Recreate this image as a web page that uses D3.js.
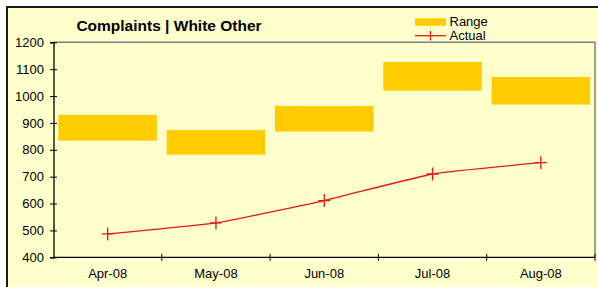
<!DOCTYPE html>
<html><head><meta charset="utf-8">
<script src="https://cdn.jsdelivr.net/npm/d3@7/dist/d3.min.js"></script>
<style>html,body{margin:0;padding:0;background:#fff;}svg{display:block;font-family:"Liberation Sans",Arial,sans-serif;}</style>
</head><body><div id="chart"></div>
<script>
const categories = ["Apr-08","May-08","Jun-08","Jul-08","Aug-08"];
const rangeLow  = [834, 782, 868, 1020, 968];
const rangeHigh = [930, 874, 963, 1127, 1071];
const actual    = [487, 528, 611, 710, 752];
const yTicks    = [400,500,600,700,800,900,1000,1100,1200];
const title = "Complaints | White Other";

const W = 598, H = 287;
const svg = d3.select("#chart").append("svg").attr("width", W).attr("height", H);

svg.append("rect").attr("x",7).attr("y",7).attr("width",W).attr("height",H).attr("fill","#FFFFCC");
svg.append("line").attr("x1",6).attr("x2",W).attr("y1",7).attr("y2",7).attr("stroke","#1a1a1a").attr("stroke-width",2);
svg.append("line").attr("x1",7).attr("x2",7).attr("y1",6).attr("y2",H).attr("stroke","#1a1a1a").attr("stroke-width",2);

const L = 53.5, R = 595, T = 42.3, B = 257.3;
const x = d3.scaleBand().domain(categories).range([L, R]).paddingInner(0.09).paddingOuter(0.045);
const xc = d3.scaleBand().domain(categories).range([L, R]);
const y = d3.scaleLinear().domain([400,1200]).range([B, T]);

svg.append("path").attr("d",`M${L},${T}H${R}V${B}`).attr("fill","none").attr("stroke","#808080").attr("stroke-width",1.5);

svg.append("g").selectAll("rect").data(categories).join("rect")
  .attr("x", d => x(d)).attr("width", x.bandwidth())
  .attr("y", (d,i) => y(rangeHigh[i])).attr("height", (d,i) => y(rangeLow[i]) - y(rangeHigh[i]))
  .attr("fill","#FFCC00");

const yAxis = svg.append("g").attr("transform",`translate(${L},0)`)
  .call(d3.axisLeft(y).tickValues(yTicks).tickFormat(d3.format("d")).tickSize(3.5).tickPadding(6));
yAxis.selectAll(".tick line").attr("x2",-3.5).attr("x1",3.5);
const xAxis = svg.append("g").attr("transform",`translate(0,${B})`)
  .call(d3.axisBottom(xc).tickSize(0).tickPadding(11));
svg.append("g").selectAll("line").data(categories).join("line")
  .attr("x1", d => xc(d) + xc.bandwidth()).attr("x2", d => xc(d) + xc.bandwidth())
  .attr("y1", B-3.5).attr("y2", B+3.5).attr("stroke","#000").attr("stroke-width",1);
[yAxis, xAxis].forEach(g => {
  g.select(".domain").attr("stroke","#000").attr("stroke-width",1.3);
  g.selectAll(".tick line").attr("stroke","#000");
  g.selectAll("text").attr("font-size","13px").attr("fill","#000").attr("font-family","'Liberation Sans',Arial,sans-serif");
});
xAxis.select(".domain").attr("d",`M${L},0H${R}`);

const pts = categories.map((c,i) => [xc(c) + xc.bandwidth()/2, y(actual[i])]);
svg.append("path").datum(pts)
  .attr("d", d3.line().curve(d3.curveCardinal.tension(0.6)))
  .attr("fill","none").attr("stroke","#E8141B").attr("stroke-width",1.3);
svg.append("g").selectAll("path").data(pts).join("path")
  .attr("d", d => `M${d[0]-6},${d[1]}H${d[0]+6}M${d[0]},${d[1]-6.5}V${d[1]+6.5}`)
  .attr("stroke","#E8141B").attr("stroke-width",1.3).attr("fill","none");

svg.append("text").attr("x",169).attr("y",30.5).attr("text-anchor","middle")
  .attr("font-size","15.5px").attr("font-weight","bold").text(title);

svg.append("rect").attr("x",415).attr("y",18.3).attr("width",31).attr("height",7.5).attr("fill","#FFCC00");
svg.append("text").attr("x",449.5).attr("y",26).attr("font-size","13px").text("Range");
svg.append("line").attr("x1",415).attr("x2",446).attr("y1",35.7).attr("y2",35.7).attr("stroke","#E8141B").attr("stroke-width",1.3);
svg.append("line").attr("x1",430.5).attr("x2",430.5).attr("y1",31).attr("y2",40.5).attr("stroke","#E8141B").attr("stroke-width",1.3);
svg.append("text").attr("x",449.5).attr("y",39.8).attr("font-size","13px").text("Actual");
</script></body></html>
